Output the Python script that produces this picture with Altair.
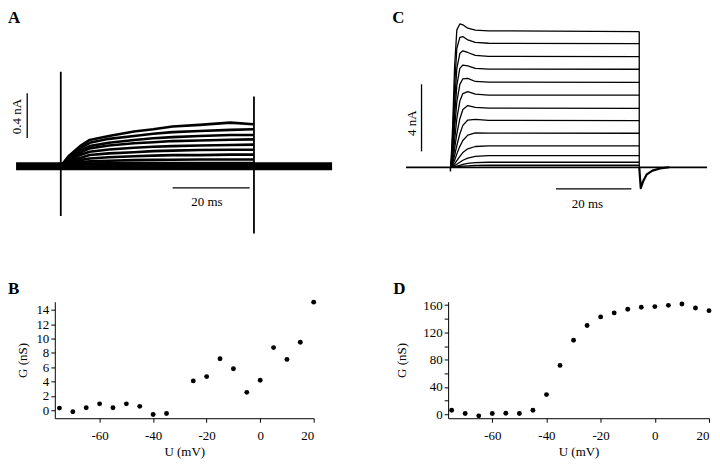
import altair as alt
import pandas as pd

SERIF = "Liberation Serif"

# ---------------- Panel A: current traces (nA) vs time (ms) ----------------
a_t = [0, 2, 5, 7.5, 12.5, 19, 24, 29, 36, 44, 50]
a_traces = [
    [0, 0.09, 0.18, 0.235, 0.27, 0.31, 0.33, 0.355, 0.37, 0.39, 0.375],
    [0, 0.08, 0.16, 0.21, 0.245, 0.27, 0.29, 0.305, 0.315, 0.325, 0.33],
    [0, 0.07, 0.14, 0.18, 0.21, 0.235, 0.25, 0.26, 0.27, 0.28, 0.28],
    [0, 0.06, 0.12, 0.16, 0.185, 0.205, 0.215, 0.225, 0.23, 0.237, 0.24],
    [0, 0.05, 0.10, 0.13, 0.15, 0.165, 0.175, 0.18, 0.185, 0.19, 0.193],
    [0, 0.04, 0.075, 0.10, 0.115, 0.125, 0.135, 0.14, 0.145, 0.148, 0.148],
    [0, 0.03, 0.055, 0.07, 0.08, 0.09, 0.095, 0.10, 0.10, 0.104, 0.104],
    [0, 0.02, 0.035, 0.045, 0.05, 0.055, 0.057, 0.058, 0.06, 0.06, 0.06],
    [0, 0.01, 0.02, 0.025, 0.027, 0.028, 0.029, 0.03, 0.03, 0.03, 0.03],
]
a_base_t = [-11.6, 70.4]
a_spike_t = [0, 50.13]
a_spike_top = [0.844, 0.622]
a_spike_bottom = [-0.444, -0.60]

# ---------------- Panel C: current traces (nA) vs time (ms) ----------------
c_t = [0, 0.5, 1.0, 1.6, 2.4, 3.2, 4.5, 6.5, 10, 50]
c_traces = [
    [0, 2.5, 6.0, 8.2, 8.55, 8.5, 8.3, 8.18, 8.14, 8.1],
    [0, 1.8, 4.8, 7.1, 7.75, 7.8, 7.6, 7.45, 7.4, 7.38],
    [0, 1.3, 3.8, 5.9, 6.8, 6.95, 6.85, 6.68, 6.62, 6.6],
    [0, 1.0, 3.0, 4.9, 5.9, 6.1, 6.05, 5.9, 5.86, 5.85],
    [0, 0.7, 2.3, 3.9, 4.95, 5.28, 5.3, 5.12, 5.08, 5.07],
    [0, 0.5, 1.6, 2.9, 3.95, 4.4, 4.52, 4.36, 4.31, 4.3],
    [0, 0.35, 1.1, 2.0, 2.9, 3.45, 3.68, 3.58, 3.53, 3.52],
    [0, 0.25, 0.7, 1.3, 2.0, 2.5, 2.82, 2.86, 2.8, 2.79],
    [0, 0.15, 0.4, 0.8, 1.25, 1.6, 1.92, 2.05, 2.04, 2.03],
    [0, 0.08, 0.2, 0.4, 0.65, 0.88, 1.1, 1.24, 1.28, 1.28],
    [0, 0.03, 0.1, 0.18, 0.3, 0.42, 0.55, 0.65, 0.7, 0.70],
    [0, 0.01, 0.03, 0.07, 0.12, 0.17, 0.23, 0.28, 0.3, 0.3],
    [0, 0.0, 0.01, 0.03, 0.05, 0.07, 0.09, 0.11, 0.12, 0.12],
]
c_base_t = [-11.9, 68.0]
c_tail_t = [50.0, 50.4, 51.0, 52.0, 53.5, 55.5, 58.0]
c_tail_v = [0, -1.25, -0.85, -0.42, -0.2, -0.07, 0]

# ---------------- Panel B: G (nS) vs U (mV) ----------------
b_u = [-75, -70, -65, -60, -55, -50, -45, -40, -35, -25, -20, -15, -10, -5, 0, 5, 10, 15, 20]
b_g = [0.3, -0.2, 0.35, 0.9, 0.35, 0.9, 0.55, -0.6, -0.45, 4.1, 4.7, 7.2, 5.8, 2.5, 4.2, 8.75, 7.1, 9.5, 15.1]

# ---------------- Panel D: G (nS) vs U (mV) ----------------
d_u = [-75, -70, -65, -60, -55, -50, -45, -40, -35, -30, -25, -20, -15, -10, -5, 0, 5, 10, 15, 20]
d_g = [5.8, 1, -2.4, 1, 1.5, 1, 5.8, 28.8, 71.6, 108.6, 130.1, 142.8, 148.7, 154, 156.9, 157.9, 159.8, 161.8, 155.9, 152]


def letter(ch, x, y):
    return alt.Chart(pd.DataFrame({"l": [ch]})).mark_text(
        align="left", baseline="top", font=SERIF, fontSize=17, fontWeight="bold", color="black"
    ).encode(x=alt.value(x), y=alt.value(y), text="l:N")


def trace_panel(t, traces, base_t, xs, ys, trace_w, base_w):
    rows = [{"t": tt, "v": vv, "trace": i, "k": j}
            for i, tr in enumerate(traces) for j, (tt, vv) in enumerate(zip(t, tr))]
    df = pd.DataFrame(rows)
    base = alt.Chart(pd.DataFrame({"t": base_t, "v": [0, 0]})).mark_line(
        color="black", strokeWidth=base_w, strokeJoin="round", strokeCap="butt").encode(
        x=alt.X("t:Q", scale=xs, axis=None), y=alt.Y("v:Q", scale=ys, axis=None))
    lines = alt.Chart(df).mark_line(color="black", strokeWidth=trace_w, strokeJoin="round").encode(
        x=alt.X("t:Q", scale=xs, axis=None), y=alt.Y("v:Q", scale=ys, axis=None),
        detail="trace:N", order="k:Q")
    return base, lines


def rule_v(x, y1, y2, xs, ys, w):
    return alt.Chart(pd.DataFrame({"t": x, "a": y1, "b": y2})).mark_rule(
        color="black", strokeWidth=w).encode(
        x=alt.X("t:Q", scale=xs, axis=None), y=alt.Y("a:Q", scale=ys, axis=None), y2="b:Q")


def rule_h(x1, x2, y, xs, ys, w):
    return alt.Chart(pd.DataFrame({"a": [x1], "b": [x2], "v": [y]})).mark_rule(
        color="black", strokeWidth=w).encode(
        x=alt.X("a:Q", scale=xs, axis=None), x2="b:Q", y=alt.Y("v:Q", scale=ys, axis=None))


def label(txt, x, y, xs, ys, angle=0):
    return alt.Chart(pd.DataFrame({"t": [x], "v": [y], "s": [txt]})).mark_text(
        font=SERIF, fontSize=13, color="black", angle=angle, align="center", baseline="middle"
    ).encode(x=alt.X("t:Q", scale=xs, axis=None), y=alt.Y("v:Q", scale=ys, axis=None), text="s:N")


# ---- Panel A ----
xa = alt.Scale(domain=[-1.550, 65.63], nice=False, zero=False)
ya = alt.Scale(domain=[-0.6667, 1.3956], nice=False, zero=False)
a_base, a_lines = trace_panel(a_t, a_traces, a_base_t, xa, ya, 2.6, 8)
panel_a = alt.layer(
    a_base, a_lines,
    rule_v(a_spike_t, a_spike_top, a_spike_bottom, xa, ya, 1.8),
    rule_v([-8.71], [0.2516], [0.6516], xa, ya, 1.3),
    rule_h(29.02, 49.02, -0.193, xa, ya, 1.3),
    label("20 ms", 37.93, -0.317, xa, ya),
    label("0.4 nA", -11.45, 0.444, xa, ya, angle=270),
    letter("A", -47, 0),
).properties(width=260, height=232)

# ---- Panel C ----
xc = alt.Scale(domain=[-0.713, 68.51], nice=False, zero=False)
yc = alt.Scale(domain=[-4.397, 9.388], nice=False, zero=False)
c_base, c_lines = trace_panel(c_t, c_traces, c_base_t, xc, yc, 1.3, 1.8)
c_tail = alt.Chart(pd.DataFrame({"t": c_tail_t, "v": c_tail_v})).mark_line(
    color="black", strokeWidth=2.2, strokeJoin="round").encode(
    x=alt.X("t:Q", scale=xc, axis=None), y=alt.Y("v:Q", scale=yc, axis=None))
panel_c = alt.layer(
    c_base, c_lines, c_tail,
    rule_v([50.0], [0], [c_traces[0][-1]], xc, yc, 1.3),
    rule_v([-0.1], [0], [-0.25], xc, yc, 1.5),
    rule_v([-7.77], [0.95], [4.95], xc, yc, 1.3),
    rule_h(27.9, 47.9, -1.289, xc, yc, 1.3),
    label("20 ms", 36.27, -2.20, xc, yc),
    label("4 nA", -10.22, 2.63, xc, yc, angle=270),
    letter("C", -56, 0),
).properties(width=262, height=232)

# ---- Panels B and D ----
xax = dict(labelExpr="'' + datum.value", labelPadding=7, titlePadding=3, tickSize=4)

panel_b = alt.layer(
    alt.Chart(pd.DataFrame({"u": b_u, "g": b_g})).mark_circle(color="black", size=24, opacity=1).encode(
        x=alt.X("u:Q", scale=alt.Scale(domain=[-76.74, 20], nice=False, zero=False),
                axis=alt.Axis(values=[-60, -40, -20, 0, 20], title="U (mV)", **xax)),
        y=alt.Y("g:Q", scale=alt.Scale(domain=[-1.11, 15.16], nice=False, zero=False),
                axis=alt.Axis(values=[0, 2, 4, 6, 8, 10, 12, 14], title="G (nS)",
                              labelExpr="'' + datum.value", labelPadding=2, titlePadding=6, tickSize=4)),
    ),
    letter("B", -47, -21),
).properties(width=260, height=117)

panel_d = alt.layer(
    alt.Chart(pd.DataFrame({"u": d_u, "g": d_g})).mark_circle(color="black", size=24, opacity=1).encode(
        x=alt.X("u:Q", scale=alt.Scale(domain=[-76.3, 20], nice=False, zero=False),
                axis=alt.Axis(values=[-60, -40, -20, 0, 20], title="U (mV)", labelFlush=True, **xax)),
        y=alt.Y("g:Q", scale=alt.Scale(domain=[-5.85, 165.1], nice=False, zero=False),
                axis=alt.Axis(values=[0, 20, 40, 60, 80, 100, 120, 140, 160], title="G (nS)",
                              labelExpr="datum.value % 40 == 0 ? '' + datum.value : ''",
                              labelPadding=2, titlePadding=14, tickSize=4)),
    ),
    letter("D", -55, -21),
).properties(width=262, height=117)

chart = alt.concat(
    panel_a, panel_c, panel_b, panel_d,
    columns=2, spacing={"row": 61, "column": 135}, bounds="flush",
).properties(
    padding=0
).configure_view(stroke=None).configure_axis(
    domainColor="black", tickColor="black", labelColor="black", titleColor="black",
    labelFont=SERIF, titleFont=SERIF, labelFontSize=13, titleFontSize=13,
    titleFontWeight="normal", grid=False, domainWidth=1, tickWidth=1,
)

chart.save("out.html", embed_options={"renderer": "svg", "actions": False})
